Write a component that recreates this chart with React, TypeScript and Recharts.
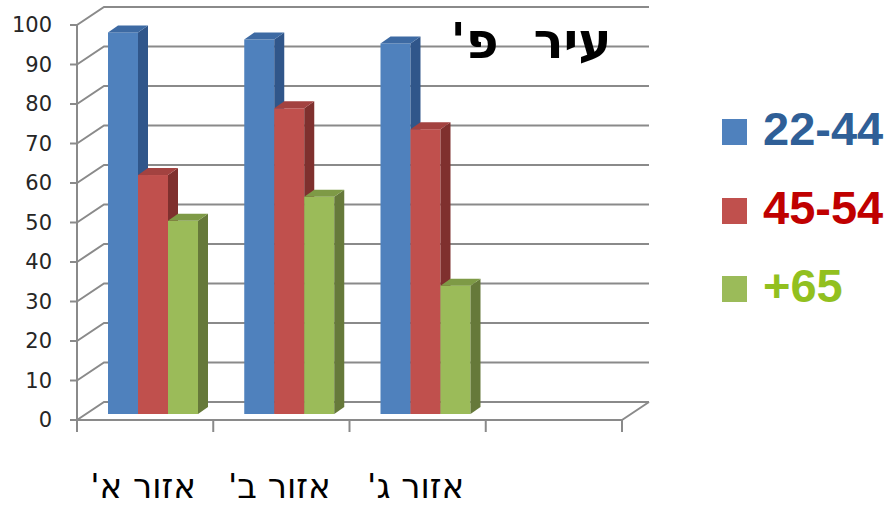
import { BarChart, Bar, XAxis, YAxis, CartesianGrid, Legend, Customized } from 'recharts'

const categories = ["אזור א'", "אזור ב'", "אזור ג'", '']
const ages2244 = [96.6, 94.8, 93.8, null]
const ages4554 = [60.5, 77.4, 72.1, null]
const ages65 = [48.9, 55.0, 32.5, null]
const yTicks = [0, 10, 20, 30, 40, 50, 60, 70, 80, 90, 100]
const title = "עיר\u00A0\u00A0פ'"

const series = [
  { key: 'a', name: '22-44', front: '#4F81BD', side: '#30568A', top: '#3D6AA3', text: '#2F5F97' },
  { key: 'b', name: '45-54', front: '#C0504D', side: '#7F302E', top: '#A34240', text: '#C00000' },
  { key: 'c', name: '+65', front: '#9BBB59', side: '#66793A', top: '#7E9A46', text: '#92C01F' }
]

const data = categories.map((name, i) => ({
  name,
  a: ages2244[i],
  b: ages4554[i],
  c: ages65[i]
}))

// 3d offsets: wall depth, bar plane shift, bar depth
const WALL_DX = 27
const WALL_DY = -18
const BAR_SX = 8
const BAR_SY = -6
const BOX_DX = 10
const BOX_DY = -7
const GRID = '#8a8a8a'

const GridLine = (props: any) => {
  const { x1, y1, x2, index } = props
  const bottom = props.y + props.height
  const isFloor = Number.isFinite(bottom) ? Math.abs(y1 - bottom) < 0.5 : index === 0
  let d = `M${x1},${y1} L${x1 + WALL_DX},${y1 + WALL_DY} L${x2 + WALL_DX},${y1 + WALL_DY}`
  if (isFloor) d += ` M${x2},${y1} L${x2 + WALL_DX},${y1 + WALL_DY}`
  return <path key={`g-${index}`} d={d} stroke={GRID} strokeWidth={2} fill="none" />
}

const Box3D = (props: any) => {
  const { x, y, width, height, colors } = props
  if (!height || !width) return null
  const fx = x + BAR_SX
  const fy = y + BAR_SY
  const side = `${fx + width},${fy} ${fx + width + BOX_DX},${fy + BOX_DY} ${fx + width + BOX_DX},${fy + height + BOX_DY} ${fx + width},${fy + height}`
  const top = `${fx},${fy} ${fx + BOX_DX},${fy + BOX_DY} ${fx + width + BOX_DX},${fy + BOX_DY} ${fx + width},${fy}`
  return (
    <g>
      <rect x={fx} y={fy} width={width} height={height} fill={colors.front} />
      <polygon points={side} fill={colors.side} />
      <polygon points={top} fill={colors.top} />
    </g>
  )
}

const CategoryTick = (props: any) => {
  const { x, y, payload, index, width, visibleTicksCount } = props
  const bw = width && visibleTicksCount ? width / visibleTicksCount : 136.25
  const left = x - bw / 2
  const right = x + bw / 2
  return (
    <g>
      <line x1={left} y1={y} x2={left} y2={y + 12} stroke={GRID} strokeWidth={2} />
      {index === visibleTicksCount - 1 && (
        <line x1={right} y1={y} x2={right} y2={y + 12} stroke={GRID} strokeWidth={2} />
      )}
      <text x={x - 2} y={y + 78} textAnchor="middle" fontSize={34} fontFamily="'DejaVu Sans', sans-serif" fill="#000" direction="rtl">
        {payload.value}
      </text>
    </g>
  )
}

const LegendContent = () => (
  <div style={{ position: 'relative', width: 164, height: 320 }}>
    {series.map((s, i) => {
      const base = 145 + i * 78.5
      return (
        <div key={s.key}>
          <div style={{ position: 'absolute', left: 0, top: base - 26, width: 25, height: 26, background: s.front }} />
          <div style={{ position: 'absolute', left: 41, top: base - 40, fontSize: 47, lineHeight: '47px', fontWeight: 'bold', fontFamily: "'Liberation Sans', Arial, sans-serif", color: s.text, whiteSpace: 'nowrap' }}>
            {s.name}
          </div>
        </div>
      )
    })}
  </div>
)

const Title = () => (
  <text x={531} y={58} textAnchor="middle" fontSize={50} fontWeight="bold" fontFamily="'DejaVu Sans', sans-serif" fill="#000" direction="rtl">
    {title}
  </text>
)

export default function App() {
  return (
    <div style={{ position: 'absolute', left: 0, top: 0, width: 886, height: 507, background: '#fff' }}>
      <BarChart
        width={886}
        height={507}
        data={data}
        margin={{ top: 25, right: 264, bottom: 0, left: 0 }}
        barGap={0}
        barCategoryGap="17%"
      >
        <CartesianGrid horizontal={GridLine} vertical={false} />
        <XAxis
          dataKey="name"
          height={87}
          axisLine={{ stroke: GRID, strokeWidth: 2 }}
          tickLine={false}
          tickSize={0}
          tickMargin={0}
          interval={0}
          tick={<CategoryTick />}
        />
        <YAxis
          width={77}
          domain={[0, 100]}
          ticks={yTicks}
          interval={0}
          axisLine={{ stroke: GRID, strokeWidth: 2 }}
          tickLine={{ stroke: GRID, strokeWidth: 2 }}
          tickSize={7}
          tickMargin={18}
          tick={{ fontSize: 21, fontFamily: "'DejaVu Sans', sans-serif", fill: '#262626' }}
        />
        {series.map((s) => (
          <Bar
            key={s.key}
            dataKey={s.key}
            name={s.name}
            barSize={30}
            fill={s.front}
            isAnimationActive={false}
            shape={(p: any) => <Box3D {...p} colors={s} />}
          />
        ))}
        <Legend
          layout="vertical"
          align="center"
          verticalAlign="middle"
          content={<LegendContent />}
          wrapperStyle={{ left: 722, top: 0, width: 164, height: 320 }}
        />
        <Customized component={Title} />
      </BarChart>
    </div>
  )
}
